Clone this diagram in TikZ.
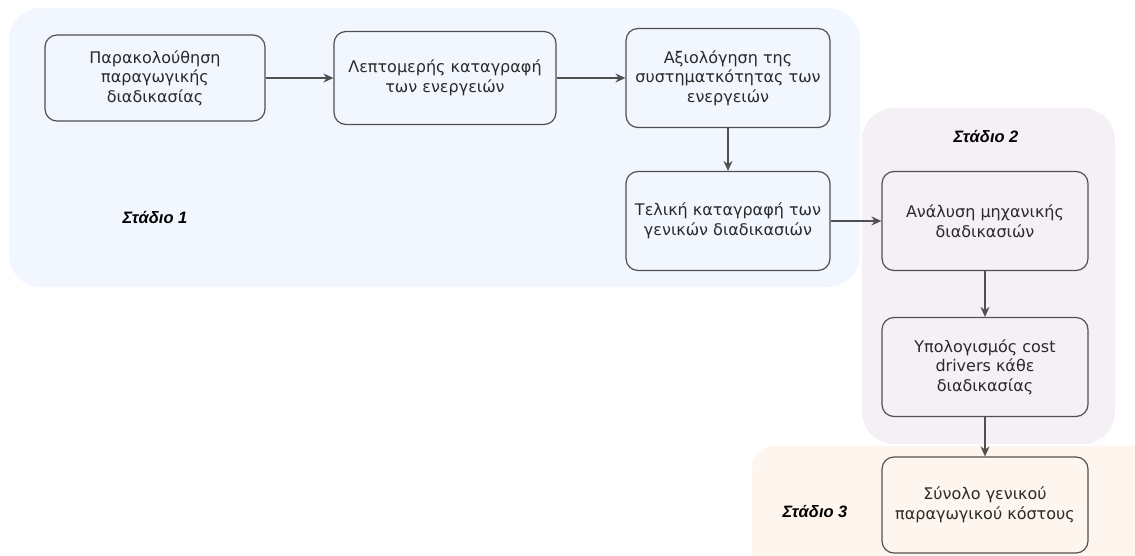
\documentclass[tikz,border=0pt]{standalone}
\usepackage{fontspec}
\setmainfont{DejaVu Sans}
\newfontfamily\labfont{Liberation Sans}
\usetikzlibrary{arrows.meta}
\definecolor{bgone}{HTML}{F2F6FE}
\definecolor{bgtwo}{HTML}{F4F0F6}
\definecolor{bgthree}{HTML}{FEF6EE}
\definecolor{edge}{HTML}{505050}
\definecolor{txt}{HTML}{2A2A2A}
\tikzset{
  x=1pt, y=-1pt,
  stagebg/.style={rounded corners=32pt, draw=none},
  box/.style={draw=edge, line width=1.2pt, rounded corners=12pt, text=txt,
    align=center, font=\fontsize{16}{19.5}\selectfont, inner sep=0pt},
  lab/.style={font=\labfont\bfseries\itshape\fontsize{16.5}{18}\selectfont, text=black},
  conn/.style={draw=edge, line width=1.2pt, -{Stealth[length=10pt,width=9pt]}}
}
\begin{document}
\begin{tikzpicture}
\useasboundingbox (0,0) rectangle (1135,556);
% stage backgrounds
\fill[bgone, stagebg] (9,8) rectangle (860,287);
\fill[bgtwo, stagebg] (862,108) rectangle (1115,444);
\begin{scope}
\clip (0,0) rectangle (1135,556);
\fill[bgthree, rounded corners=22pt] (752,446) rectangle (1160,600);
\end{scope}
% boxes
\node[box, fill=bgone, minimum width=220pt, minimum height=86pt] (a) at (155,78) {Παρακολούθηση\\παραγωγικής\\διαδικασίας};
\node[box, fill=bgone, minimum width=222pt, minimum height=93pt] (b) at (445,78) {Λεπτομερής καταγραφή\\των ενεργειών};
\node[box, fill=bgone, minimum width=204pt, minimum height=99pt] (c) at (728,78) {Αξιολόγηση της\\συστηματκότητας των\\ενεργειών};
\node[box, fill=bgone, minimum width=204pt, minimum height=99pt] (d) at (728,221) {Τελική καταγραφή των\\γενικών διαδικασιών};
\node[box, fill=bgtwo, minimum width=206pt, minimum height=99pt] (e) at (985,221) {Ανάλυση μηχανικής\\διαδικασιών};
\node[box, fill=bgtwo, minimum width=206pt, minimum height=99pt] (f) at (985,367) {Υπολογισμός cost\\drivers κάθε\\διαδικασίας};
\node[box, fill=bgthree, minimum width=206pt, minimum height=96pt] (g) at (985,505) {Σύνολο γενικού\\παραγωγικού κόστους};
% labels
\node[lab] (s1) at (155,218) {Στάδιο 1};
\node[lab] (s2) at (986,137) {Στάδιο 2};
\node[lab] (s3) at (815,512) {Στάδιο 3};
% connectors
\draw[conn] (a) -- (b);
\draw[conn] (b) -- (c);
\draw[conn] (c) -- (d);
\draw[conn] (d) -- (e);
\draw[conn] (e) -- (f);
\draw[conn] (f) -- (g);
\end{tikzpicture}
\end{document}
